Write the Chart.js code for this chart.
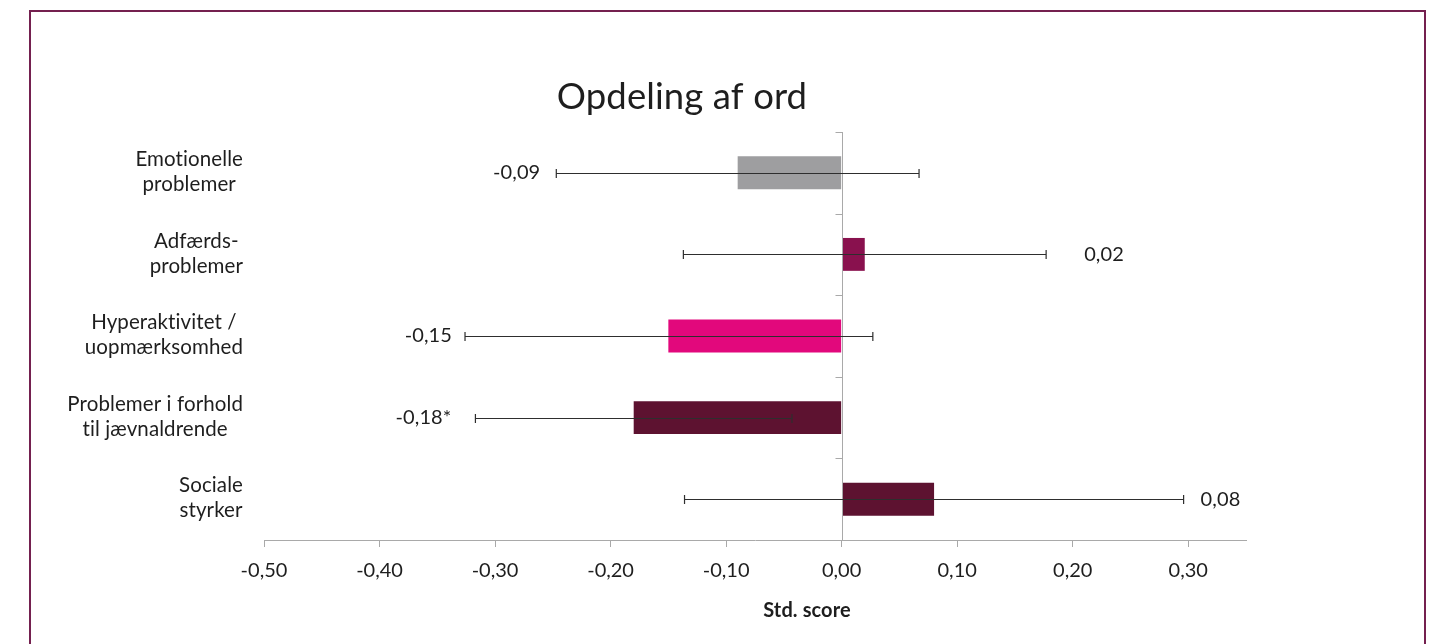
<!DOCTYPE html>
<html lang="da">
<head>
<meta charset="utf-8">
<title>Opdeling af ord</title>
<script src="https://cdn.jsdelivr.net/npm/chart.js@4/dist/chart.umd.min.js"></script>
<style>
  html, body { margin: 0; padding: 0; background: #ffffff; }
  body { width: 1433px; height: 644px; overflow: hidden; position: relative; }
  #frame {
    position: absolute; left: 29px; top: 10px; width: 1397px; height: 720px;
    border: 2px solid #74204f; box-sizing: border-box;
  }
  #chart { position: absolute; left: 0; top: 0; }
</style>
</head>
<body>
<div id="frame"></div>
<canvas id="chart" width="1433" height="644"></canvas>
<script>
// Standardised score per SDQ scale, with 95% confidence limits
const categories = [
  ['Emotionelle', 'problemer'],
  ['Adfærds-', 'problemer'],
  ['Hyperaktivitet /', 'uopmærksomhed'],
  ['Problemer i forhold', 'til jævnaldrende'],
  ['Sociale', 'styrker']
];
const scores = [-0.09, 0.02, -0.15, -0.18, 0.08];
const lowerLimits = [-0.247, -0.137, -0.326, -0.317, -0.136];
const upperLimits = [0.067, 0.177, 0.027, -0.043, 0.296];
const significance = ['', '', '', '*', ''];
const xTickValues = [-0.5, -0.4, -0.3, -0.2, -0.1, 0, 0.1, 0.2, 0.3];
const chartTitle = 'Opdeling af ord';
const axisTitle = 'Std. score';

const barColors = ['#9e9ea0', '#89114e', '#e2087c', '#5d1230', '#5d1230'];
// distance between the end of each whisker and its value label (px)
const labelGap = [16, 38, 13, 24, 17];

const FONT = 'Lato, "Open Sans", sans-serif';
const TEXT = '#1e1e1e';
const AXIS = '#a9a9a9';

function fmt(v) {
  if (Math.abs(v) < 1e-9) v = 0;
  return v.toFixed(2).replace('.', ',');
}

// a tiny letter spacing keeps the "ti" pairs as separate letters
function plainText(ctx) {
  if ('letterSpacing' in ctx) ctx.letterSpacing = '0.1px';
}

const decorations = {
  id: 'decorations',
  afterDatasetsDraw(chart) {
    const { ctx, chartArea } = chart;
    const xs = chart.scales.x, ys = chart.scales.y;
    const x0 = Math.round(xs.getPixelForValue(0)) + 0.5;

    ctx.save();
    // vertical axis through zero with tick marks between categories
    ctx.strokeStyle = AXIS;
    ctx.lineWidth = 1;
    ctx.beginPath();
    ctx.moveTo(x0, chartArea.top);
    ctx.lineTo(x0, chartArea.bottom);
    for (let i = 0; i <= categories.length; i++) {
      const y = Math.round(ys.getPixelForValue(i - 0.5)) + 0.5;
      ctx.moveTo(x0 - 7, y);
      ctx.lineTo(x0, y);
    }
    ctx.stroke();

    // confidence interval whiskers
    ctx.strokeStyle = '#2e2e2e';
    ctx.lineWidth = 1.2;
    for (let i = 0; i < scores.length; i++) {
      const y = Math.round(ys.getPixelForValue(i)) + 0.5;
      const a = xs.getPixelForValue(lowerLimits[i]);
      const b = xs.getPixelForValue(upperLimits[i]);
      ctx.beginPath();
      ctx.moveTo(a, y); ctx.lineTo(b, y);
      ctx.moveTo(a, y - 4.5); ctx.lineTo(a, y + 4.5);
      ctx.moveTo(b, y - 4.5); ctx.lineTo(b, y + 4.5);
      ctx.stroke();
    }

    // value labels beside the whiskers
    ctx.fillStyle = TEXT;
    ctx.font = '20px ' + FONT;
    plainText(ctx);
    ctx.textBaseline = 'middle';
    for (let i = 0; i < scores.length; i++) {
      const y = ys.getPixelForValue(i);
      const text = fmt(scores[i]) + significance[i];
      if (scores[i] < 0) {
        ctx.textAlign = 'right';
        ctx.fillText(text, xs.getPixelForValue(lowerLimits[i]) - labelGap[i], y);
      } else {
        ctx.textAlign = 'left';
        ctx.fillText(text, xs.getPixelForValue(upperLimits[i]) + labelGap[i], y);
      }
    }
    ctx.restore();
  },
  afterDraw(chart) {
    const { ctx, chartArea } = chart;
    const ys = chart.scales.y;
    ctx.save();
    ctx.fillStyle = TEXT;
    plainText(ctx);

    // category labels: each block right-aligned, lines centred within it
    ctx.font = '20.5px ' + FONT;
    ctx.textBaseline = 'middle';
    ctx.textAlign = 'center';
    const lineH = 25;
    categories.forEach((lines, i) => {
      const w = Math.max(...lines.map(l => ctx.measureText(l).width));
      const cx = chartArea.left - 21 - w / 2;
      const cy = ys.getPixelForValue(i);
      lines.forEach((l, k) => {
        ctx.fillText(l, cx, cy + (k - (lines.length - 1) / 2) * lineH - 1);
      });
    });

    // chart title
    ctx.font = '36.5px ' + FONT;
    ctx.textBaseline = 'alphabetic';
    ctx.fillText(chartTitle, 682, 109);

    // axis title
    ctx.font = 'bold 20px ' + FONT;
    ctx.fillText(axisTitle, 807, 617);
    ctx.restore();
  }
};

new Chart(document.getElementById('chart'), {
  type: 'bar',
  data: {
    labels: categories,
    datasets: [{
      data: scores,
      backgroundColor: barColors,
      borderWidth: 0,
      barPercentage: 0.806,
      categoryPercentage: 0.5
    }]
  },
  options: {
    indexAxis: 'y',
    responsive: false,
    animation: false,
    devicePixelRatio: 1,
    layout: { padding: { left: 264, right: 187, top: 132, bottom: 50 } },
    plugins: {
      legend: { display: false },
      tooltip: { enabled: false },
      title: { display: false }
    },
    scales: {
      x: {
        type: 'linear',
        min: -0.5,
        max: 0.35,
        afterBuildTicks(scale) {
          scale.ticks = xTickValues.map(v => ({ value: v }));
        },
        grid: { drawOnChartArea: false, drawTicks: true, tickLength: 7, color: AXIS },
        border: { display: true, color: AXIS, width: 1 },
        ticks: {
          autoSkip: false,
          maxRotation: 0,
          padding: 11.5,
          color: TEXT,
          font: { family: FONT, size: 20 },
          callback: v => fmt(v)
        }
      },
      y: { display: false }
    }
  },
  plugins: [decorations]
});
</script>
</body>
</html>
